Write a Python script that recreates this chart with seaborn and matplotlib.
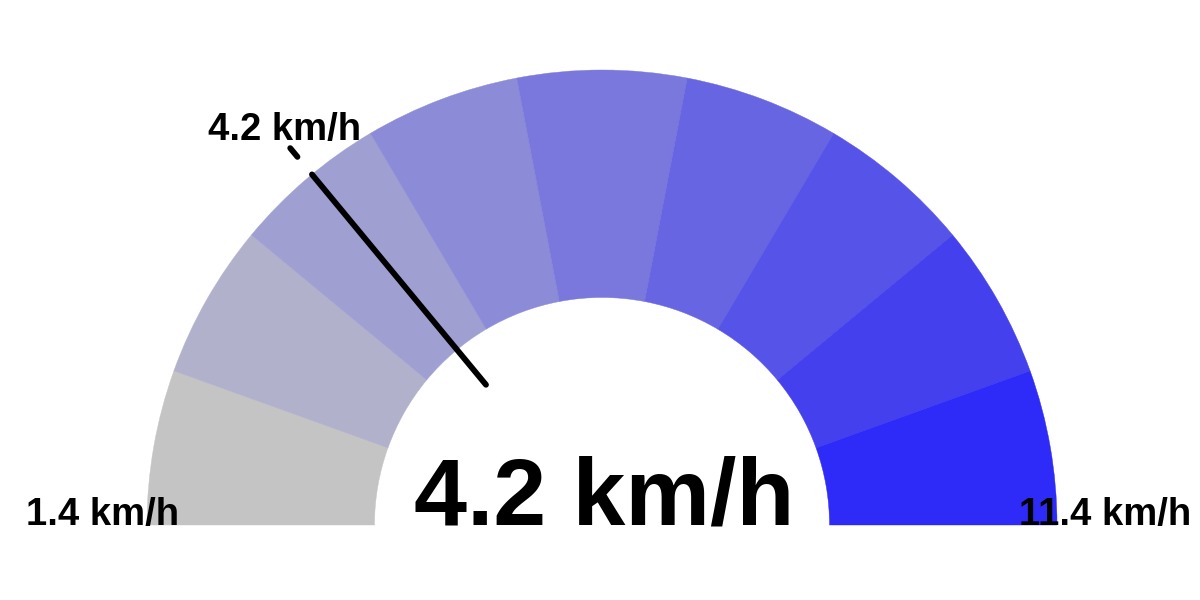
import numpy as np
import matplotlib.pyplot as plt
import seaborn as sns
from matplotlib.patches import Wedge

# gauge data
min_val = 1.4
max_val = 11.4
value = 4.2
unit = "km/h"
band_edges = [1.4, 2.5, 3.6, 4.7, 5.8, 7.0, 8.1, 9.2, 10.3, 11.4]
band_colors = ['#c4c4c4', '#b1b1cc', '#9f9fd2', '#8c8bd7', '#7a78dc',
               '#6865e2', '#5653e8', '#4440ee', '#2e2bf9']

sns.set_theme(style="white")
plt.rcParams['font.family'] = ['Liberation Sans', 'DejaVu Sans']


def to_angle(v):
    # value -> degrees, min on the left (180), max on the right (0)
    return 180 - (v - min_val) / (max_val - min_val) * 180


fig = plt.figure(figsize=(12, 6), dpi=100)
ax = fig.add_axes([0, 0, 1, 1])
ax.set_xlim(-602 / 455, 598 / 455)
ax.set_ylim(-75 / 455, 525 / 455)
ax.set_aspect('equal')
ax.axis('off')

for i, col in enumerate(band_colors):
    a1 = to_angle(band_edges[i + 1])
    a0 = to_angle(band_edges[i])
    ax.add_patch(Wedge((0, 0), 1.0, a1, a0, width=0.5,
                       facecolor=col, edgecolor=col, lw=0.3))

# needle
ang = np.deg2rad(to_angle(value))
ax.plot([0.4 * np.cos(ang), 1.0 * np.cos(ang)],
        [0.4 * np.sin(ang), 1.0 * np.sin(ang)],
        color='black', lw=4.2, solid_capstyle='round')
ax.plot([1.05 * np.cos(ang), 1.075 * np.cos(ang)],
        [1.05 * np.sin(ang), 1.075 * np.sin(ang)],
        color='black', lw=4.2, solid_capstyle='round')

ax.text(1.12 * np.cos(ang) + 0.016, 1.12 * np.sin(ang) + 0.005, f"{value} {unit}",
        ha='center', va='center', fontsize=27.5, fontweight='bold', color='black')

ax.text(-1.097, 0, f"{min_val} {unit}", ha='center', va='baseline',
        fontsize=27.5, fontweight='bold', color='black')
ax.text(1.105, 0, f"{max_val} {unit}", ha='center', va='baseline',
        fontsize=27.5, fontweight='bold', color='black')
ax.text(0.005, 0, f"{value} {unit}", ha='center', va='baseline',
        fontsize=68.5, fontweight='bold', color='black')

fig.savefig("out.png", dpi=100, facecolor='white')
plt.close(fig)
